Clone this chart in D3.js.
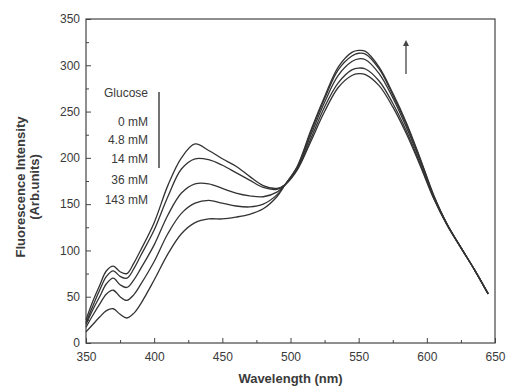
<!DOCTYPE html>
<html>
<head>
<meta charset="utf-8">
<script src="https://cdn.jsdelivr.net/npm/d3@7"></script>
<style>
  body { margin: 0; background: #fff; }
  text { font-family: "Liberation Sans", Arial, sans-serif; fill: #3a3a3a; }
</style>
</head>
<body>
<div id="chart"></div>
<script>
const wavelengths = [350, 355, 360, 365, 370, 375, 380, 385, 390, 400, 410, 420, 430, 440, 450, 460, 470, 480, 490, 496, 505, 515, 525, 535, 545, 550, 555, 565, 575, 585, 595, 605, 615, 625, 635, 645]

const glucose0 = [25, 45, 62, 78, 83, 77, 75, 86, 100, 130, 170, 200, 215, 208, 199, 191, 180, 170, 167, 171, 187, 218, 250, 276, 289, 291, 290, 278, 255, 226, 192, 156, 127, 103, 79, 53]
const glucose48 = [22, 40, 57, 72, 78, 72, 70, 80, 94, 122, 158, 188, 199, 198, 192, 184, 176, 168, 166, 171, 188, 221, 255, 281, 295, 297, 296, 283, 259, 229, 194, 157, 127, 103, 79, 53]
const glucose14 = [20, 36, 50, 64, 70, 63, 60, 68, 80, 106, 138, 162, 172, 172, 167, 162, 159, 158, 163, 171, 189, 225, 260, 289, 304, 307, 306, 291, 265, 233, 197, 158, 128, 103, 79, 53]
const glucose36 = [17, 30, 42, 53, 57, 50, 46, 52, 63, 88, 118, 140, 151, 154, 151, 148, 147, 150, 160, 171, 190, 228, 264, 295, 310, 313, 312, 296, 268, 236, 199, 159, 128, 103, 79, 53]
const glucose143 = [12, 20, 28, 35, 37, 31, 27, 32, 42, 68, 96, 118, 130, 134, 134, 136, 139, 145, 158, 171, 191, 230, 266, 298, 314, 316, 315, 298, 270, 238, 200, 160, 128, 103, 79, 53]

const seriesNames = ['0 mM', '4.8 mM', '14 mM', '36 mM', '143 mM']
const seriesValues = [glucose0, glucose48, glucose14, glucose36, glucose143]

const xTicks = [350, 400, 450, 500, 550, 600, 650]
const yTicks = [0, 50, 100, 150, 200, 250, 300, 350]

const fullWidth = 506,
  fullHeight = 388,
  margin = { top: 19, right: 11, bottom: 45, left: 86 },
  width = fullWidth - margin.left - margin.right,
  height = fullHeight - margin.top - margin.bottom

const svg = d3.select('#chart')
  .append('svg')
    .attr('width', fullWidth)
    .attr('height', fullHeight)

const g = svg.append('g')
  .attr('transform', `translate(${margin.left}, ${margin.top})`)

const xScale = d3.scaleLinear().domain([350, 650]).range([0, width])
const yScale = d3.scaleLinear().domain([0, 350]).range([height, 0])

// frame
g.append('rect')
  .attr('width', width)
  .attr('height', height)
  .attr('fill', 'none')
  .attr('stroke', '#444')
  .attr('stroke-width', 1.2)

// minor ticks (inward)
g.append('g')
  .attr('transform', `translate(0, ${height})`)
  .call(d3.axisBottom(xScale).tickValues(d3.range(375, 650, 50)).tickSize(-3).tickFormat(''))
  .call(thinAxis)
g.append('g')
  .call(d3.axisLeft(yScale).tickValues(d3.range(25, 350, 50)).tickSize(-3).tickFormat(''))
  .call(thinAxis)

// major ticks + labels
g.append('g')
  .attr('transform', `translate(0, ${height})`)
  .call(d3.axisBottom(xScale).tickValues(xTicks).tickSize(-5).tickPadding(9))
  .call(thinAxis)
g.append('g')
  .call(d3.axisLeft(yScale).tickValues(yTicks).tickSize(-5).tickPadding(6))
  .call(thinAxis)

const line = d3.line()
  .x((d, i) => xScale(wavelengths[i]))
  .y(d => yScale(d))
  .curve(d3.curveCatmullRom)

g.selectAll('.spectrum')
  .data(seriesValues)
  .enter()
  .append('path')
    .attr('class', 'spectrum')
    .attr('d', line)
    .attr('fill', 'none')
    .attr('stroke', '#333')
    .attr('stroke-width', 1.3)

// legend
const legend = svg.append('g').attr('font-size', 12)
legend.append('text')
  .attr('x', 148).attr('y', 97)
  .attr('text-anchor', 'end')
  .text('Glucose')
legend.selectAll('.lab')
  .data(seriesNames)
  .enter()
  .append('text')
    .attr('class', 'lab')
    .attr('x', 148)
    .attr('y', (d, i) => [126, 144, 163, 184, 204][i])
    .attr('text-anchor', 'end')
    .text(d => d)
legend.append('line')
  .attr('x1', 159).attr('x2', 159)
  .attr('y1', 92).attr('y2', 168)
  .attr('stroke', '#444').attr('stroke-width', 1.5)

// arrow near the 550 nm band
svg.append('line')
  .attr('x1', 406).attr('x2', 406)
  .attr('y1', 74).attr('y2', 44)
  .attr('stroke', '#444').attr('stroke-width', 1.3)
svg.append('path')
  .attr('d', 'M403,46 L406,40 L409,46 Z')
  .attr('fill', '#444')

// axis titles
svg.append('text')
  .attr('x', margin.left + width / 2)
  .attr('y', 383)
  .attr('text-anchor', 'middle')
  .attr('font-size', 13)
  .attr('font-weight', 'bold')
  .text('Wavelength (nm)')

const yTitle = svg.append('text')
  .attr('transform', 'translate(0, 187) rotate(-90)')
  .attr('text-anchor', 'middle')
  .attr('font-size', 13)
  .attr('font-weight', 'bold')
yTitle.append('tspan').attr('x', 0).attr('y', 25).text('Fluorescence Intensity')
yTitle.append('tspan').attr('x', 0).attr('y', 39).text('(Arb.units)')

function thinAxis (sel) {
  sel.selectAll('.domain').remove()
  sel.selectAll('line').attr('stroke', '#444').attr('stroke-width', 1)
  sel.selectAll('text').attr('font-size', 12).attr('font-family', '"Liberation Sans", Arial, sans-serif').attr('fill', '#3a3a3a')
}
</script>
</body>
</html>
